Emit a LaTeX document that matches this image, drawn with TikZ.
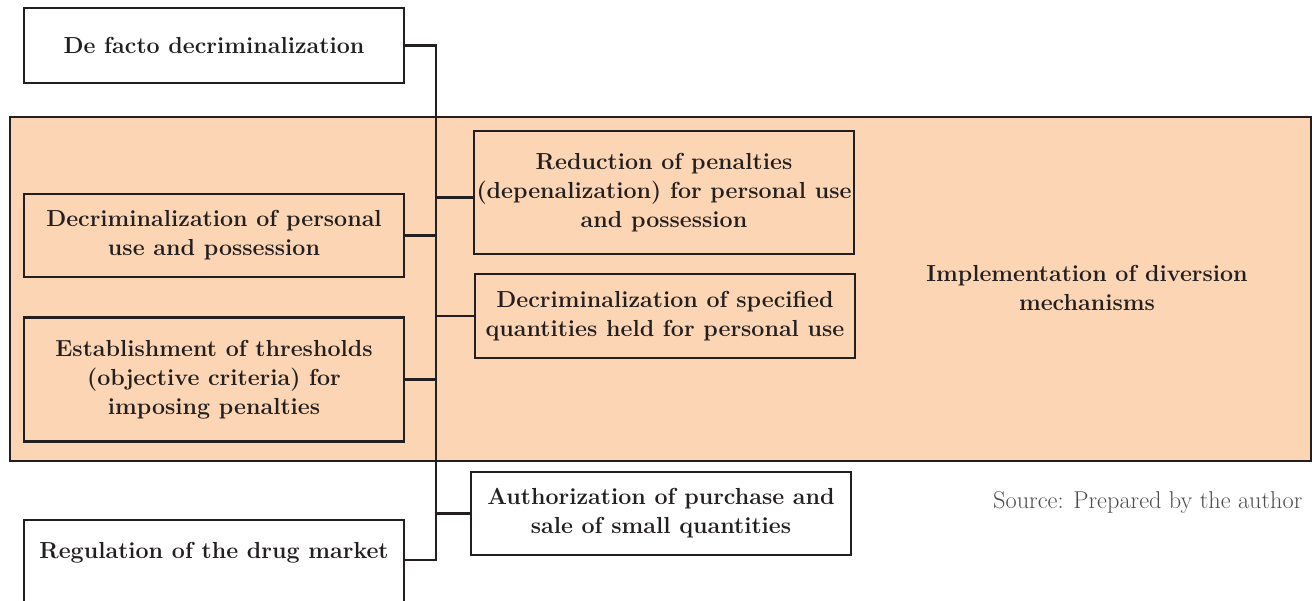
\documentclass[tikz,border=0pt]{standalone}
\usepackage{tikz}
\usetikzlibrary{shapes, arrows.meta}
\definecolor{peach}{HTML}{FCD5B4}
\definecolor{ink}{HTML}{231F20}
\definecolor{srcgray}{HTML}{4D4D4D}
\newcommand{\boxfont}{\fontsize{23.2}{29}\selectfont\bfseries}
\tikzstyle{plainbox} = [rectangle, draw=ink, line width=2.4pt, fill=white,
    minimum width=380pt, inner xsep=2pt, align=center, text=ink, font=\boxfont]
\tikzstyle{tintbox} = [plainbox, fill=peach]
\tikzstyle{frame} = [rectangle, draw=ink, line width=2.4pt, fill=peach,
    minimum width=1301pt, minimum height=344pt]
\tikzstyle{line} = [draw=ink, line width=2.4pt]

\begin{document}
\begin{tikzpicture}[x=1pt, y=-1pt]
    \useasboundingbox (0,0) rectangle (1312,601);
    % Background
    \node [frame] (frame) at (660.5,289) {};
    \node [align=center, text=ink, font=\boxfont] (implement) at (1087,288)
        {Implementation of diversion\\ mechanisms};
    % Nodes
    \node [plainbox, minimum height=75pt] (defacto) at (214,45.5) {De facto decriminalization};
    \node [tintbox, minimum height=83pt] (personal) at (214,235.5) {Decriminalization of personal\\ use and possession};
    \node [tintbox, minimum height=124pt] (threshold) at (214,379.5) {Establishment of thresholds\\ (objective criteria) for\\ imposing penalties};
    \node [tintbox, minimum height=123pt] (reduce) at (664,192.5) {Reduction of penalties\\ (depenalization) for personal use\\ and possession};
    \node [tintbox, minimum height=84pt] (specified) at (665,316) {Decriminalization of specified\\ quantities held for personal use};
    \node [plainbox, minimum height=83pt] (authorize) at (661,513.5) {Authorization of purchase and\\ sale of small quantities};
    \node [plainbox, minimum height=120pt, text depth=60pt] (market) at (214,580) {Regulation of the drug market};
    \node [anchor=west, inner xsep=0pt, text=srcgray, font=\fontsize{24.3}{30}\selectfont] (source) at (993,502) {Source: Prepared by the author};
    % Edges
    \coordinate (spine) at (436,0);
    \path [line] (defacto.east) -| (spine |- 0,560) -- (market.east |- 0,560);
    \path [line] (personal.east) -- (personal.east -| spine);
    \path [line] (threshold.east) -- (threshold.east -| spine);
    \path [line] ([yshift=-5pt]reduce.west) -- ([yshift=-5pt]reduce.west -| spine);
    \path [line] (specified.west) -- (specified.west -| spine);
    \path [line] (authorize.west) -- (authorize.west -| spine);
\end{tikzpicture}
\end{document}
